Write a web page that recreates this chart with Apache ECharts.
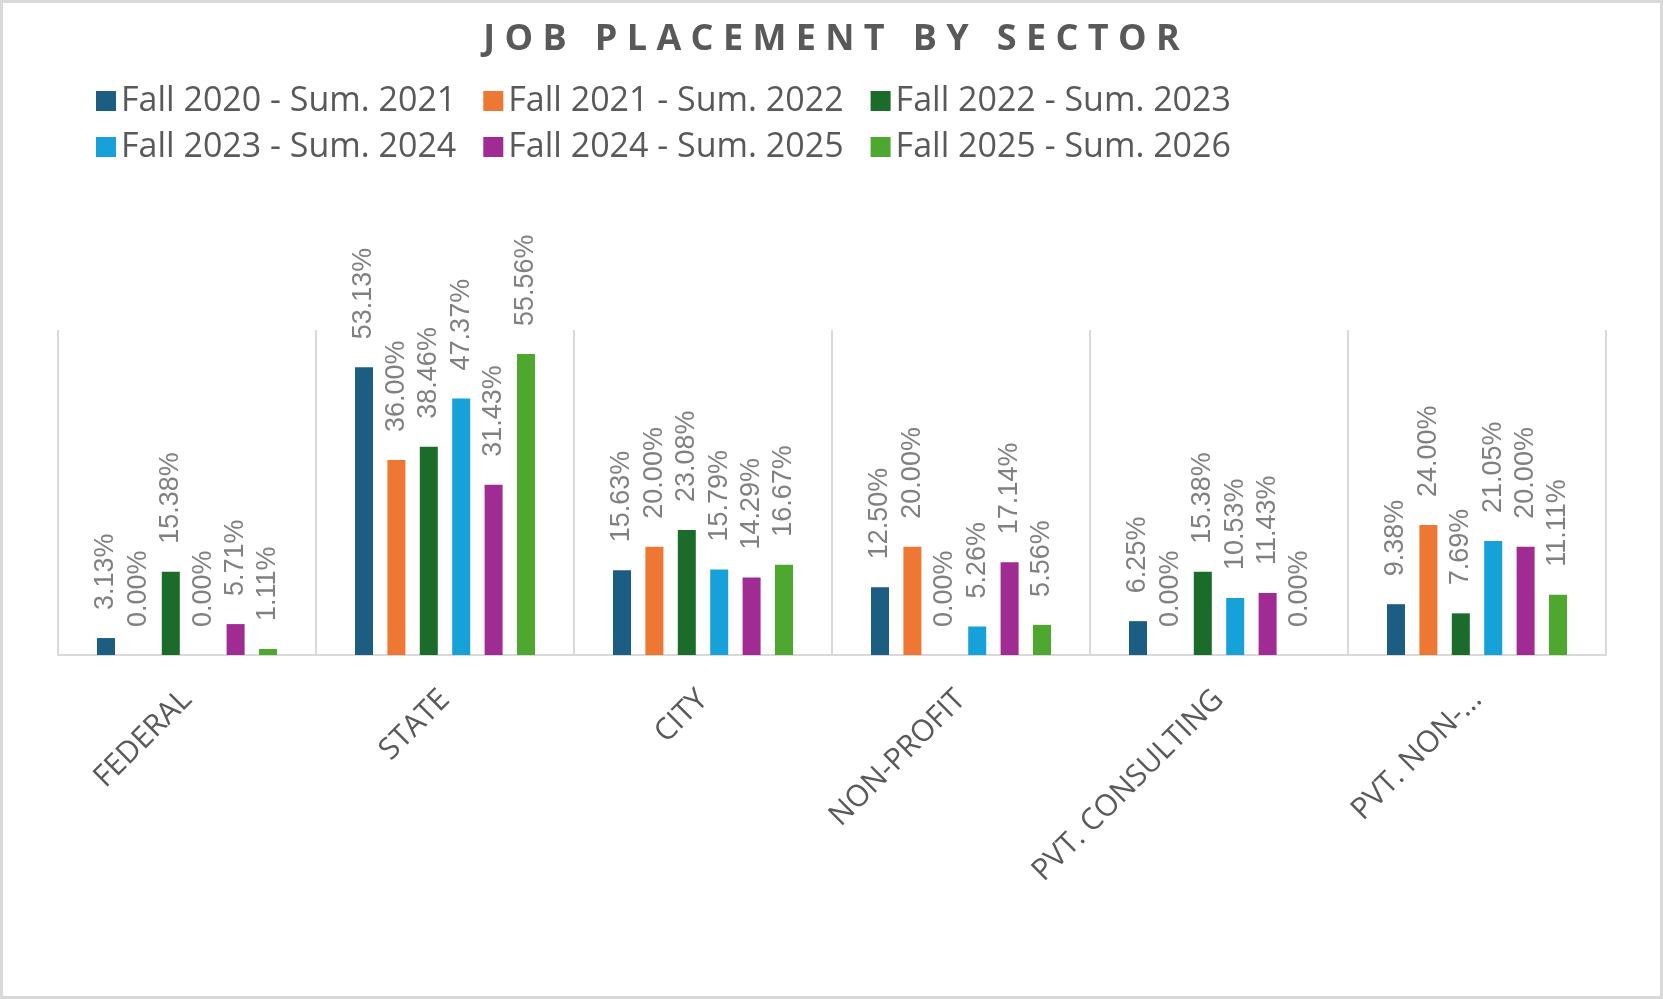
<!DOCTYPE html>
<html>
<head>
<meta charset="utf-8">
<script src="https://cdn.jsdelivr.net/npm/echarts@6/dist/echarts.min.js"></script>
<style>
html, body { margin: 0; padding: 0; background: #fff; }
#myChart1 { width: 1663px; height: 999px; box-sizing: border-box; border: 3px solid #d9d9d9; }
</style>
</head>
<body>
<div id="myChart1"></div>
<script>
var categories = ['FEDERAL', 'STATE', 'CITY', 'NON-PROFIT', 'PVT. CONSULTING', 'PVT. NON-...'];
var seriesNames = ['Fall 2020 - Sum. 2021', 'Fall 2021 - Sum. 2022', 'Fall 2022 - Sum. 2023',
                   'Fall 2023 - Sum. 2024', 'Fall 2024 - Sum. 2025', 'Fall 2025 - Sum. 2026'];
var colors = ['#1b5e82', '#ee7733', '#1b6b2a', '#17a1d9', '#a02b93', '#4ea72e'];
var fall2020 = [3.13, 53.13, 15.63, 12.50, 6.25, 9.38];
var fall2021 = [0.00, 36.00, 20.00, 20.00, 0.00, 24.00];
var fall2022 = [15.38, 38.46, 23.08, 0.00, 15.38, 7.69];
var fall2023 = [0.00, 47.37, 15.79, 5.26, 10.53, 21.05];
var fall2024 = [5.71, 31.43, 14.29, 17.14, 11.43, 20.00];
var fall2025 = [1.11, 55.56, 16.67, 5.56, 0.00, 11.11];
var allValues = [fall2020, fall2021, fall2022, fall2023, fall2024, fall2025];

var myChart = echarts.init(document.getElementById("myChart1"));
var series = seriesNames.map(function (name, i) {
    return {
        name: name,
        type: 'bar',
        data: allValues[i],
        barWidth: 18,
        barGap: '80%',
        itemStyle: { color: colors[i] },
        label: {
            show: true,
            position: 'top',
            rotate: 90,
            align: 'left',
            verticalAlign: 'middle',
            distance: 28,
            fontSize: 27,
            fontFamily: 'Liberation Sans, Arial',
            color: '#808080',
            formatter: function (p) { return p.value.toFixed(2) + '%'; }
        }
    };
});

function legendRow(names, top) {
    return {
        data: names,
        left: 88,
        top: top,
        orient: 'horizontal',
        itemWidth: 20,
        itemHeight: 20,
        itemGap: 27,
        icon: 'rect',
        textStyle: { fontSize: 34, color: '#595959', fontFamily: 'Open Sans', width: 480 }
    };
}

var option = {
    title: {
        text: 'J O B   P L A C E M E N T   B Y   S E C T O R',
        left: 'center',
        top: 14,
        textStyle: { fontSize: 36, fontWeight: 'bold', color: '#595959', fontFamily: 'Open Sans' }
    },
    legend: [legendRow(seriesNames.slice(0, 3), 76), legendRow(seriesNames.slice(3), 122)],
    grid: { left: 55, right: 54, top: 327, bottom: 341 },
    xAxis: {
        type: 'category',
        data: categories,
        axisLine: { lineStyle: { color: '#d9d9d9', width: 2 } },
        axisTick: { show: false },
        splitLine: { show: true, lineStyle: { color: '#d9d9d9', width: 2 } },
        axisLabel: { rotate: 45, fontSize: 30, color: '#595959', margin: 40, fontFamily: 'Open Sans' }
    },
    yAxis: {
        type: 'value',
        min: 0,
        max: 60,
        show: false
    },
    series: series
};
myChart.setOption(option);
</script>
</body>
</html>
